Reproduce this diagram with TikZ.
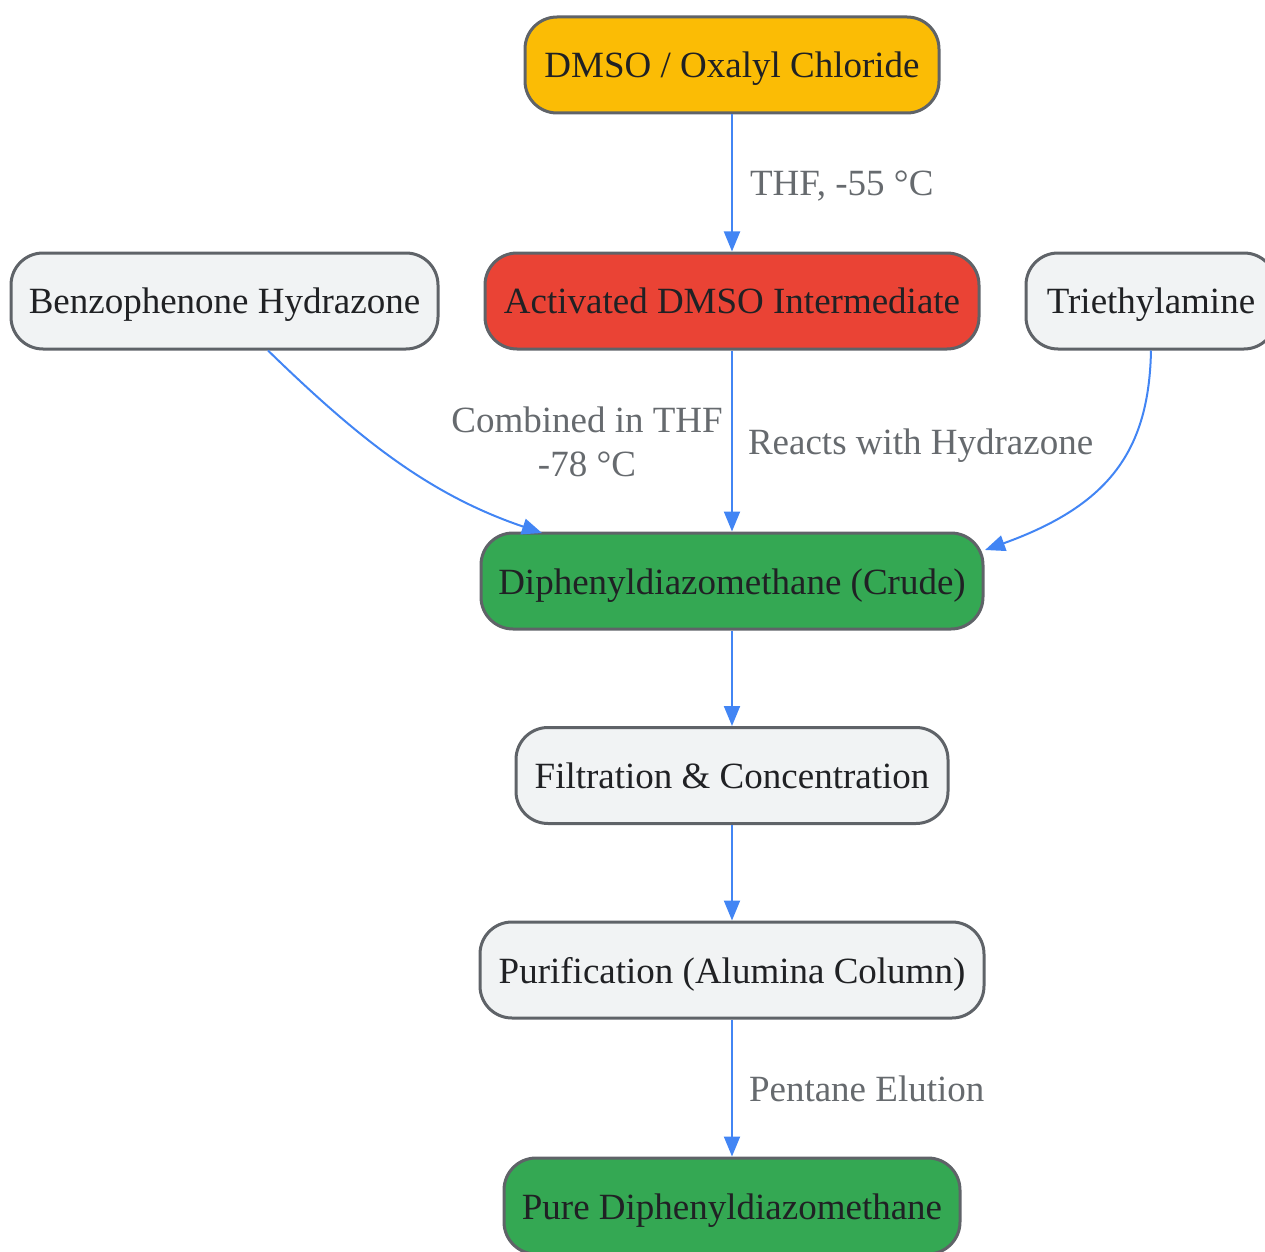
\documentclass[tikz,border=0pt]{standalone}
\usepackage{fontspec}
\setmainfont{Liberation Serif}
\usetikzlibrary{arrows.meta}
\definecolor{bordc}{HTML}{5F6368}
\definecolor{edgec}{HTML}{4285F4}
\definecolor{txtc}{HTML}{202124}
\definecolor{lblc}{HTML}{666A6E}
\definecolor{yel}{HTML}{FBBC05}
\definecolor{redc}{HTML}{EA4335}
\definecolor{grn}{HTML}{34A853}
\definecolor{lgray}{HTML}{F1F3F4}
\begin{document}
\begin{tikzpicture}[x=0.5pt,y=-0.5pt,
  box/.style={draw=bordc, line width=1.5pt, rounded corners=16pt, inner sep=0pt,
    minimum height=48pt, text height=17pt, text depth=4pt, text=txtc,
    font=\fontsize{18.5}{22}\selectfont},
  edge/.style={draw=edgec, line width=1pt, -{Triangle[length=10pt,width=8pt]}},
  lbl/.style={text=lblc, inner sep=0pt, font=\fontsize{18.5}{22}\selectfont},
  elbl/.style={lbl, text height=17pt, text depth=4pt}]
\useasboundingbox (0,0) rectangle (1265,1252);
\clip (0,0) rectangle (1265,1252);
\node[box, fill=yel, minimum width=207pt] (dmso) at (732,65) {DMSO / Oxalyl Chloride};
\node[box, fill=redc, minimum width=247pt] (act) at (732,301) {Activated DMSO Intermediate};
\node[box, fill=lgray, minimum width=213.5pt] (benz) at (224.5,301) {Benzophenone Hydrazone};
\node[box, fill=lgray, minimum width=125pt] (tea) at (1151,301) {Triethylamine};
\node[box, fill=grn, minimum width=251pt] (crude) at (732,581) {Diphenyldiazomethane (Crude)};
\node[box, fill=lgray, minimum width=216pt] (filt) at (732,775.5) {Filtration \& Concentration};
\node[box, fill=lgray, minimum width=252pt] (pur) at (732,970) {Purification (Alumina Column)};
\node[box, fill=grn, minimum width=228pt] (pure) at (732,1206) {Pure Diphenyldiazomethane};

\draw[edge] (dmso) -- node[elbl, right=8.5pt] {THF, -55 °C} (act);
\draw[edge] (act) -- node[elbl, right=7.5pt] {Reacts with Hydrazone} (crude);
\draw[edge] (benz.south -| 268,0) .. controls (360,440) and (430,495) .. (542,533);
\node[lbl, align=center] (lblbenz) at (587,442) {Combined in THF\\-78 °C};
\draw[edge] (tea.south) .. controls (1149,450) and (1110,505) .. (985,550);
\draw[edge] (crude) -- (filt);
\draw[edge] (filt) -- (pur);
\draw[edge] (pur) -- node[elbl, right=8pt] {Pentane Elution} (pure);
\end{tikzpicture}
\end{document}
